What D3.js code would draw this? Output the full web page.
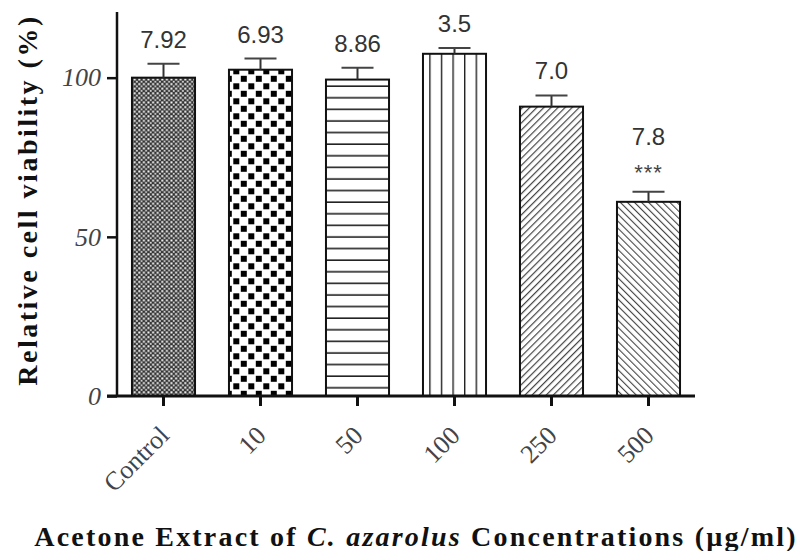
<!DOCTYPE html>
<html>
<head>
<meta charset="utf-8">
<script src="https://cdn.jsdelivr.net/npm/d3@7"></script>
<style>
  body { margin: 0; background: #fff; }
  svg { display: block; }
</style>
</head>
<body>
<div id="chart"></div>
<script>
// data
var groups = ["Control", "10", "50", "100", "250", "500"];
var viability = [100, 102.5, 99.4, 107.5, 90.9, 61];
var errors = [4.4, 3.5, 3.7, 1.8, 3.5, 3.2];
var valueLabels = ["7.92", "6.93", "8.86", "3.5", "7.0", "7.8"];
var signif = ["", "", "", "", "", "***"];
var yTicks = [0, 50, 100];

var width = 800, height = 551;

var svg = d3.select("#chart").append("svg")
  .attr("width", width)
  .attr("height", height);

// patterns for the fills
var defs = svg.append("defs");

var p0 = defs.append("pattern").attr("id", "pat0")
  .attr("patternUnits", "userSpaceOnUse").attr("width", 4.6).attr("height", 4.6);
p0.append("rect").attr("width", 4.6).attr("height", 4.6).attr("fill", "#333");
p0.append("rect").attr("x", 0.3).attr("y", 0.3).attr("width", 2).attr("height", 2).attr("fill", "#fff");
p0.append("rect").attr("x", 2.6).attr("y", 2.6).attr("width", 1.8).attr("height", 1.8).attr("fill", "#e0e0e0");

var p1 = defs.append("pattern").attr("id", "pat1")
  .attr("patternUnits", "userSpaceOnUse").attr("width", 15).attr("height", 15);
p1.append("rect").attr("width", 15).attr("height", 15).attr("fill", "#fff");
p1.append("rect").attr("x", 0.8).attr("y", 0.8).attr("width", 6).attr("height", 6).attr("fill", "#000");
p1.append("rect").attr("x", 8.3).attr("y", 8.3).attr("width", 6).attr("height", 6).attr("fill", "#000");

var p2 = defs.append("pattern").attr("id", "pat2")
  .attr("patternUnits", "userSpaceOnUse").attr("width", 10).attr("height", 11.6);
p2.append("rect").attr("width", 10).attr("height", 11.6).attr("fill", "#fff");
p2.append("line").attr("x1", 0).attr("x2", 10).attr("y1", 5).attr("y2", 5)
  .attr("stroke", "#222").attr("stroke-width", 1.6);

var p3 = defs.append("pattern").attr("id", "pat3")
  .attr("patternUnits", "userSpaceOnUse").attr("width", 11.6).attr("height", 10);
p3.append("rect").attr("width", 11.6).attr("height", 10).attr("fill", "#fff");
p3.append("line").attr("y1", 0).attr("y2", 10).attr("x1", 0.5).attr("x2", 0.5)
  .attr("stroke", "#222").attr("stroke-width", 1.8);

var p4 = defs.append("pattern").attr("id", "pat4")
  .attr("patternUnits", "userSpaceOnUse").attr("width", 5).attr("height", 5)
  .attr("patternTransform", "rotate(45)");
p4.append("rect").attr("width", 5).attr("height", 5).attr("fill", "#fff");
p4.append("line").attr("x1", 0).attr("x2", 0).attr("y1", 0).attr("y2", 5)
  .attr("stroke", "#444").attr("stroke-width", 2.4);

var p5 = defs.append("pattern").attr("id", "pat5")
  .attr("patternUnits", "userSpaceOnUse").attr("width", 5).attr("height", 5)
  .attr("patternTransform", "rotate(-45)");
p5.append("rect").attr("width", 5).attr("height", 5).attr("fill", "#fff");
p5.append("line").attr("x1", 0).attr("x2", 0).attr("y1", 0).attr("y2", 5)
  .attr("stroke", "#444").attr("stroke-width", 2.2);

// scales
var x = d3.scaleBand()
  .domain(groups)
  .range([115, 697])
  .paddingInner(0.35)
  .paddingOuter(0.175);

var y = d3.scaleLinear()
  .domain([0, 120])
  .range([396, 14]);

var data = groups.map(function(g, i) {
  return { g: g, v: viability[i], e: errors[i], label: valueLabels[i], sig: signif[i], i: i };
});

// bars
svg.selectAll(".bar").data(data).enter().append("rect")
  .attr("class", "bar")
  .attr("x", d => x(d.g))
  .attr("y", d => y(d.v))
  .attr("width", x.bandwidth())
  .attr("height", d => y(0) - y(d.v))
  .attr("fill", d => "url(#pat" + d.i + ")")
  .attr("stroke", "#111")
  .attr("stroke-width", 2);

// error bars (upper only)
var eb = svg.selectAll(".err").data(data).enter().append("g").attr("class", "err");
eb.append("line")
  .attr("x1", d => x(d.g) + x.bandwidth() / 2)
  .attr("x2", d => x(d.g) + x.bandwidth() / 2)
  .attr("y1", d => y(d.v))
  .attr("y2", d => y(d.v + d.e))
  .attr("stroke", "#333").attr("stroke-width", 2);
eb.append("line")
  .attr("x1", d => x(d.g) + x.bandwidth() / 2 - 16)
  .attr("x2", d => x(d.g) + x.bandwidth() / 2 + 16)
  .attr("y1", d => y(d.v + d.e))
  .attr("y2", d => y(d.v + d.e))
  .attr("stroke", "#444").attr("stroke-width", 2);

// value labels + significance
svg.selectAll(".vlab").data(data).enter().append("text")
  .attr("class", "vlab")
  .attr("x", d => x(d.g) + x.bandwidth() / 2)
  .attr("y", d => y(d.v + d.e) - (d.sig ? 47 : 16))
  .attr("text-anchor", "middle")
  .style("font-family", "'Liberation Sans', Arial, sans-serif")
  .style("font-size", "24px")
  .style("fill", "#333")
  .text(d => d.label);

svg.selectAll(".sig").data(data.filter(d => d.sig)).enter().append("text")
  .attr("class", "sig")
  .attr("x", d => x(d.g) + x.bandwidth() / 2)
  .attr("y", d => y(d.v + d.e) - 12)
  .attr("text-anchor", "middle")
  .style("font-family", "'Liberation Sans', Arial, sans-serif")
  .style("font-size", "22px")
  .style("letter-spacing", "1px")
  .style("fill", "#444")
  .text(d => d.sig);

// y axis
var yAxis = svg.append("g")
  .attr("transform", "translate(117,0)")
  .call(d3.axisLeft(y).tickValues(yTicks).tickSize(10).tickPadding(6).tickFormat(d3.format("d")));
yAxis.select(".domain").remove();
yAxis.selectAll(".tick line").attr("stroke", "#111").attr("stroke-width", 2.5);
yAxis.selectAll(".tick text")
  .style("font-family", "'Liberation Serif', 'Times New Roman', serif")
  .style("font-style", "italic")
  .style("font-size", "26px")
  .style("fill", "#444");
svg.append("line")
  .attr("x1", 117).attr("x2", 117)
  .attr("y1", 12).attr("y2", y(0))
  .attr("stroke", "#111").attr("stroke-width", 2.5);

// x axis
var xAxis = svg.append("g")
  .attr("transform", "translate(0," + y(0) + ")")
  .call(d3.axisBottom(x).tickSize(10).tickPadding(4));
xAxis.select(".domain").remove();
xAxis.selectAll(".tick line").attr("stroke", "#111").attr("stroke-width", 3);
xAxis.selectAll(".tick text")
  .attr("text-anchor", "end")
  .attr("dy", null)
  .attr("y", 0)
  .attr("transform", "translate(7,41) rotate(-45)")
  .style("font-family", "'Liberation Serif', 'Times New Roman', serif")
  .style("font-size", "26px")
  .style("fill", "#444");
svg.append("line")
  .attr("x1", 107).attr("x2", 695)
  .attr("y1", y(0)).attr("y2", y(0))
  .attr("stroke", "#111").attr("stroke-width", 3);

// axis titles
svg.append("text")
  .attr("transform", "translate(37,200) rotate(-90)")
  .attr("text-anchor", "middle")
  .style("font-family", "'Liberation Serif', 'Times New Roman', serif")
  .style("font-weight", "bold")
  .style("font-size", "28px")
  .style("letter-spacing", "2.5px")
  .style("fill", "#111")
  .text("Relative cell viability (%)");

var xt = svg.append("text")
  .attr("x", 416).attr("y", 546)
  .attr("text-anchor", "middle")
  .style("font-family", "'Liberation Serif', 'Times New Roman', serif")
  .style("font-weight", "bold")
  .style("font-size", "28px")
  .style("letter-spacing", "2.2px")
  .style("fill", "#111");
xt.append("tspan").text("Acetone Extract of ");
xt.append("tspan").style("font-style", "italic").text("C. azarolus");
xt.append("tspan").text(" Concentrations (µg/ml)");
</script>
</body>
</html>
